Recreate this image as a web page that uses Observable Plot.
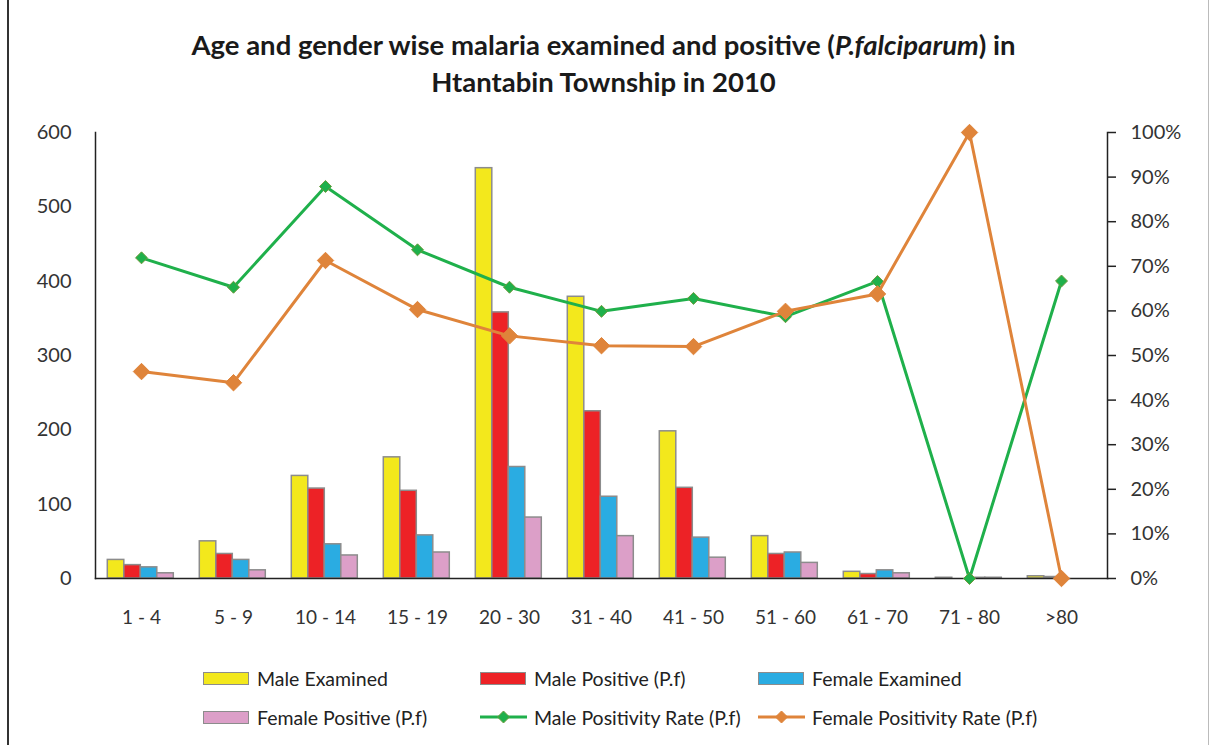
<!DOCTYPE html>
<html><head><meta charset="utf-8">
<script src="https://cdn.jsdelivr.net/npm/d3@7"></script>
<script src="https://cdn.jsdelivr.net/npm/@observablehq/plot@0.6"></script>
<style>
body{margin:0;background:#fff;font-family:Lato, "Open Sans", sans-serif;}
#wrap{position:relative;width:1213px;height:745px;overflow:hidden;background:#fff}
#frame{position:absolute;left:7px;top:0;width:1202px;height:745px;border-left:2px solid #333;border-right:1px solid #bbb;box-sizing:border-box}
#title{position:absolute;left:0;width:1207px;top:26px;text-align:center;font-weight:bold;font-size:27.5px;line-height:37px;color:#1a1a1a}
#chart{position:absolute;left:0;top:110px}
.leg{position:absolute;font-size:19.5px;color:#222;display:flex;align-items:center;height:22px;white-space:nowrap}
.sw{width:44px;height:11px;border:1.5px solid #8c8c8c;margin-right:8px;box-sizing:content-box}
.ln{width:47px;height:16px;margin-right:7px}
</style></head>
<body>
<div id="wrap">
  <div id="frame"></div>
  <div id="title">Age and gender wise malaria examined and positive (<i>P.falciparum</i>) in<br>Htantabin Township in 2010</div>
  <div id="chart"></div>
  <div id="legend"></div>
</div>
<script>
const ages = ["1 - 4","5 - 9","10 - 14","15 - 19","20 - 30","31 - 40","41 - 50","51 - 60","61 - 70","71 - 80",">80"];
const maleExamined   = [25, 50, 138, 163, 552, 379, 198, 57, 9, 1, 3];
const malePositive   = [18, 33, 121, 118, 358, 225, 122, 33, 6, 0, 2];
const femaleExamined = [15, 25, 46, 58, 150, 110, 55, 35, 11, 1, 0];
const femalePositive = [7, 11, 31, 35, 82, 57, 28, 21, 7, 1, 0];
const maleRate   = [71.9, 65.3, 87.9, 73.7, 65.3, 59.9, 62.8, 58.7, 66.6, 0, 66.7];
const femaleRate = [46.4, 43.9, 71.3, 60.3, 54.4, 52.2, 52.0, 59.9, 63.8, 100, 0];
const leftTicks = [0, 100, 200, 300, 400, 500, 600];
const rightTicks = [0,10,20,30,40,50,60,70,80,90,100];

const barSeries = [
  {name:"Male Examined", values: maleExamined, color:"#f3e81c"},
  {name:"Male Positive (P.f)", values: malePositive, color:"#ed2226"},
  {name:"Female Examined", values: femaleExamined, color:"#2aace2"},
  {name:"Female Positive (P.f)", values: femalePositive, color:"#dc9fc8"}
];
const lineSeries = [
  {name:"Male Positivity Rate (P.f)", values: maleRate, color:"#1fb04b", mstroke:"#6e9b3c", r:5.4},
  {name:"Female Positivity Rate (P.f)", values: femaleRate, color:"#df843a", mstroke:"#df843a", r:7.4}
];

const W = 1213, ML = 95, MR = 106;
const band = (W - ML - MR) / ages.length;
const groupStart = 12.3, barW = 16.5;

const marks = [];
barSeries.forEach((s, k) => {
  const data = ages.map((a, i) => ({age: a, v: s.values[i]}));
  marks.push(Plot.barY(data, {
    x: "age", y: "v", fill: s.color, stroke: "#8c8c8c", strokeWidth: 1.5,
    insetLeft: groupStart + barW * k,
    insetRight: band - groupStart - barW * (k + 1)
  }));
});
marks.push(Plot.frame({anchor: "bottom", stroke: "#222", strokeWidth: 1.5}));
marks.push(Plot.frame({anchor: "left", stroke: "#222", strokeWidth: 1.5}));
marks.push(Plot.frame({anchor: "right", stroke: "#222", strokeWidth: 1.5}));
lineSeries.forEach(s => {
  const data = ages.map((a, i) => ({age: a, v: s.values[i] * 6}));
  marks.push(Plot.line(data, {x: "age", y: "v", stroke: s.color, strokeWidth: 3}));
  marks.push(Plot.dot(data, {x: "age", y: "v", symbol: "diamond2", fill: s.color, stroke: s.mstroke, strokeWidth: 1, r: s.r}));
});
marks.push(Plot.axisY({anchor: "left", ticks: leftTicks, tickSize: 0, tickPadding: 24, fill: "#333", fontSize: 20}));
marks.push(Plot.axisY({anchor: "right", ticks: rightTicks.map(t => t * 6), tickFormat: d => `${Math.round(d / 6)}%`, tickSize: 8, tickPadding: 15, fill: "#333", stroke: "#222", strokeWidth: 1.5, fontSize: 20}));
marks.push(Plot.axisX({anchor: "bottom", tickSize: 0, tickPadding: 32, fill: "#333"}));

const chart = Plot.plot({
  width: W, height: 528,
  marginLeft: ML, marginRight: MR, marginTop: 22, marginBottom: 60,
  style: {fontFamily: "Lato, 'Open Sans', sans-serif", fontSize: "19px", background: "transparent"},
  x: {type: "band", domain: ages, padding: 0, label: null},
  y: {domain: [0, 600], label: null},
  marks
});
document.getElementById("chart").appendChild(chart);

// legend
const legend = document.getElementById("legend");
const cols = [203, 480, 758];
const rows = [667, 706];
const items = [...barSeries.map(s => ({...s, kind: "bar"})), ...lineSeries.map(s => ({...s, kind: "line"}))];
items.forEach((it, i) => {
  const div = document.createElement("div");
  div.className = "leg";
  div.style.left = cols[i % 3] + "px";
  div.style.top = rows[Math.floor(i / 3)] + "px";
  if (it.kind === "bar") {
    div.innerHTML = `<span class="sw" style="background:${it.color}"></span><span>${it.name}</span>`;
  } else {
    div.innerHTML = `<svg class="ln" viewBox="0 0 47 16"><line x1="0" y1="8" x2="47" y2="8" stroke="${it.color}" stroke-width="3"/><path d="M23.5,2L29.5,8L23.5,14L17.5,8Z" fill="${it.color}" stroke="${it.mstroke}" stroke-width="1"/></svg><span>${it.name}</span>`;
  }
  legend.appendChild(div);
});
</script>
</body></html>
